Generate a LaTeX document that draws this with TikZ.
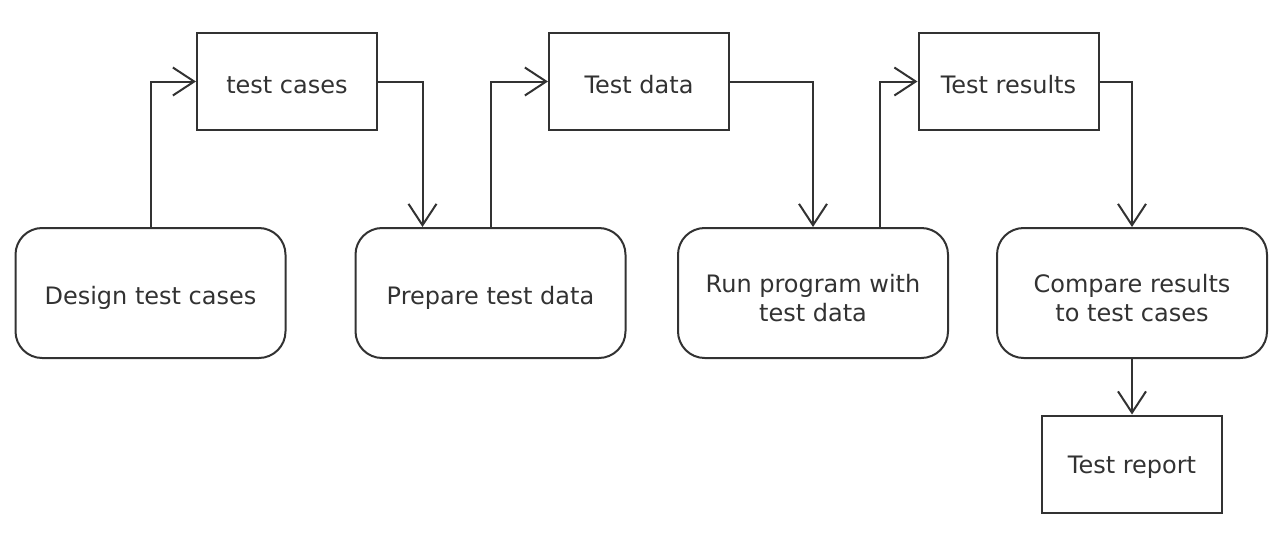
\documentclass[tikz,border=0pt]{standalone}
\usepackage{fontspec}
\setmainfont{DejaVu Sans}
\usepackage{tikz}
\usetikzlibrary{arrows.meta,calc}
\definecolor{inkgray}{RGB}{50,50,50}

\tikzset{
  databox/.style={draw=inkgray,line width=1.5pt,minimum width=135pt,minimum height=72.75pt,inner sep=0.75pt,text height=17.5pt,text=inkgray,font=\fontsize{18}{21.5}\selectfont},
  actbox/.style={draw=inkgray,line width=1.5pt,rounded corners=20pt,minimum width=202.5pt,minimum height=97.5pt,inner sep=0.75pt,align=center,text=inkgray,font=\fontsize{18}{21.5}\selectfont},
  flow/.style={draw=inkgray,line width=1.5pt,-{Straight Barb[length=16pt,width=21pt,line width=1.5pt]}}
}

\begin{document}
\begin{tikzpicture}[x=0.75pt,y=0.75pt,yscale=-1,xscale=1]
\useasboundingbox (0,0) rectangle (1284,540);

%Shape: Rectangle
\node [databox] (cases) at (287,81.5) {test cases};
%Shape: Rectangle
\node [databox] (tdata) at (639,81.5) {Test data};
%Shape: Rectangle
\node [databox] (tresults) at (1008.5,81.5) {Test results};
%Shape: Rectangle
\node [databox] (report) at (1132,464) {Test report};

%Rounded Rect
\node [actbox,text height=20.5pt] (design) at (150.5,293) {Design test cases};
%Rounded Rect
\node [actbox,text height=20.5pt] (prepare) at (490.5,293) {Prepare test data};
%Rounded Rect
\node [actbox,text height=42.5pt] (run) at (813,293) {Run program with\\test data};
%Rounded Rect
\node [actbox,text height=42.5pt] (compare) at (1132,293) {Compare results\\to test cases};

%Connector
\draw [flow] (design.north) |- (cases.west);
%Connector
\draw [flow] (cases.east) -| ($(prepare.north)+(-68,0)$);
%Connector
\draw [flow] (prepare.north) |- (tdata.west);
%Connector
\draw [flow] (tdata.east) -| (run.north);
%Connector
\draw [flow] ($(run.north)+(67,0)$) |- (tresults.west);
%Connector
\draw [flow] (tresults.east) -| (compare.north);
%Connector
\draw [flow] (compare.south) -- (report.north);

\end{tikzpicture}
\end{document}
